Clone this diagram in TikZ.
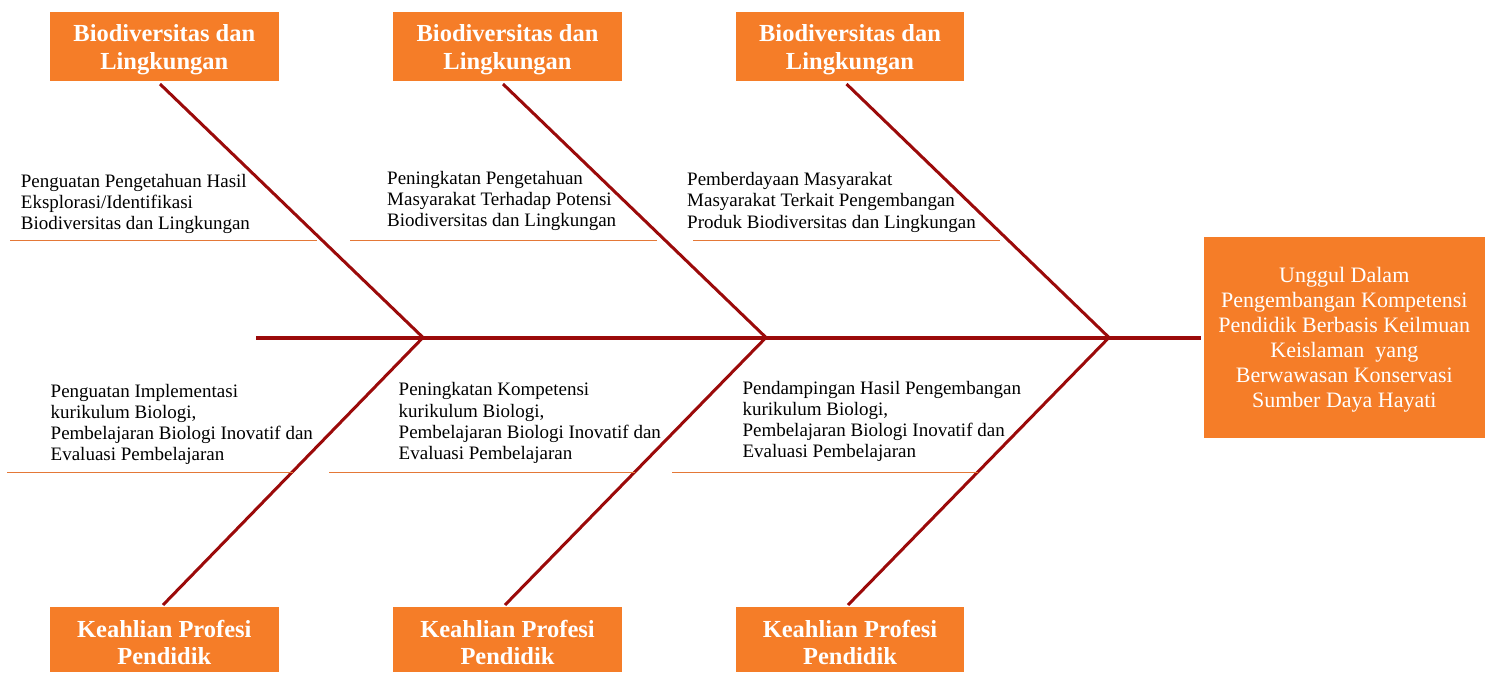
\documentclass[tikz,border=0pt]{standalone}
\usepackage{fontspec}
\setmainfont{Liberation Serif}
\definecolor{boxorange}{RGB}{245,125,40}
\definecolor{bonered}{RGB}{155,10,10}
\definecolor{thinorange}{RGB}{228,120,55}
\newcommand{\blockL}[1]{\begin{tabular}[t]{@{}l@{}}#1\end{tabular}}
\newcommand{\blockC}[1]{\begin{tabular}[t]{@{}c@{}}#1\end{tabular}}
\begin{document}
\begin{tikzpicture}[x=1pt,y=-1pt,
  catbox/.style={fill=boxorange, draw=none, inner sep=0pt, anchor=north west,
    minimum width=228.7pt, minimum height=69pt},
  cattext/.style={anchor=base, inner sep=0pt, text=white,
    font=\fontsize{24.5}{27.6}\selectfont\bfseries},
  goaltext/.style={anchor=base, inner sep=0pt, text=white,
    font=\fontsize{22}{25}\selectfont},
  causetext/.style={anchor=base west, inner sep=0pt, text=black,
    font=\fontsize{19}{21.3}\selectfont},
  bone/.style={draw=bonered, line width=3pt},
  spine/.style={draw=bonered, line width=4pt},
  shelf/.style={draw=thinorange, line width=1pt}]
\useasboundingbox (0,0) rectangle (1491,672);

% category boxes (top)
\node[catbox] (t1) at (50,12) {};
\node[catbox] (t2) at (393,12) {};
\node[catbox] (t3) at (735.5,12) {};
\node[cattext] (t1t) at (164.3,41.7) {\blockC{Biodiversitas dan\\Lingkungan}};
\node[cattext] (t2t) at (507.5,41.7) {\blockC{Biodiversitas dan\\Lingkungan}};
\node[cattext] (t3t) at (850,41.7) {\blockC{Biodiversitas dan\\Lingkungan}};

% category boxes (bottom)
\node[catbox, minimum height=65pt] (b1) at (50,607) {};
\node[catbox, minimum height=65pt] (b2) at (393,607) {};
\node[catbox, minimum height=65pt] (b3) at (735.5,607) {};
\node[cattext] (b1t) at (164.3,637) {\blockC{Keahlian Profesi\\Pendidik}};
\node[cattext] (b2t) at (507.5,637) {\blockC{Keahlian Profesi\\Pendidik}};
\node[cattext] (b3t) at (850,637) {\blockC{Keahlian Profesi\\Pendidik}};

% goal box
\node[catbox, minimum width=280.3pt, minimum height=201pt] (goal) at (1204,236.7) {};
\node[goaltext] (goalt) at (1344.3,282.3) {\blockC{Unggul Dalam\\Pengembangan Kompetensi\\Pendidik Berbasis Keilmuan\\Keislaman\ \ yang\\Berwawasan Konservasi\\Sumber Daya Hayati}};

% junction coordinates
\coordinate (tail) at (256,337.5);
\coordinate (j1) at (423,337.5);
\coordinate (j2) at (766,337.5);
\coordinate (j3) at (1109,337.5);
\coordinate (head) at (1201,337.5);
\coordinate (ts1) at (160,84);
\coordinate (ts2) at (503,84);
\coordinate (ts3) at (846.5,84);
\coordinate (bs1) at (163,605);
\coordinate (bs2) at (505,605);
\coordinate (bs3) at (848,605);

% spine and bones
\draw[spine] (tail) -- (head);
\draw[bone] (ts1) -- (j1);
\draw[bone] (ts2) -- (j2);
\draw[bone] (ts3) -- (j3);
\draw[bone] (bs1) -- (j1);
\draw[bone] (bs2) -- (j2);
\draw[bone] (bs3) -- (j3);

% shelves
\coordinate (sa1) at (10,240);   \coordinate (sa2) at (317,240);
\coordinate (sb1) at (350,240);  \coordinate (sb2) at (657,240);
\coordinate (sc1) at (693,240);  \coordinate (sc2) at (1000,240);
\coordinate (sd1) at (7,472);    \coordinate (sd2) at (292.5,472);
\coordinate (se1) at (329,472);  \coordinate (se2) at (635,472);
\coordinate (sf1) at (672,472);  \coordinate (sf2) at (978,472);
\draw[shelf] (sa1) -- (sa2);
\draw[shelf] (sb1) -- (sb2);
\draw[shelf] (sc1) -- (sc2);
\draw[shelf] (sd1) -- (sd2);
\draw[shelf] (se1) -- (se2);
\draw[shelf] (sf1) -- (sf2);

% cause texts
\node[causetext] (c1) at (20.7,187) {\blockL{Penguatan Pengetahuan Hasil\\Eksplorasi/Identifikasi\\Biodiversitas dan Lingkungan}};
\node[causetext] (c2) at (387,184.3) {\blockL{Peningkatan Pengetahuan\\Masyarakat Terhadap Potensi\\Biodiversitas dan Lingkungan}};
\node[causetext] (c3) at (687,185.5) {\blockL{Pemberdayaan Masyarakat\\Masyarakat Terkait Pengembangan\\Produk Biodiversitas dan Lingkungan}};
\node[causetext] (c4) at (50.5,397) {\blockL{Penguatan Implementasi\\kurikulum Biologi,\\Pembelajaran Biologi Inovatif dan\\Evaluasi Pembelajaran}};
\node[causetext] (c5) at (398.5,395.7) {\blockL{Peningkatan Kompetensi\\kurikulum Biologi,\\Pembelajaran Biologi Inovatif dan\\Evaluasi Pembelajaran}};
\node[causetext] (c6) at (742.3,394) {\blockL{Pendampingan Hasil Pengembangan\\kurikulum Biologi,\\Pembelajaran Biologi Inovatif dan\\Evaluasi Pembelajaran}};
\end{tikzpicture}
\end{document}
